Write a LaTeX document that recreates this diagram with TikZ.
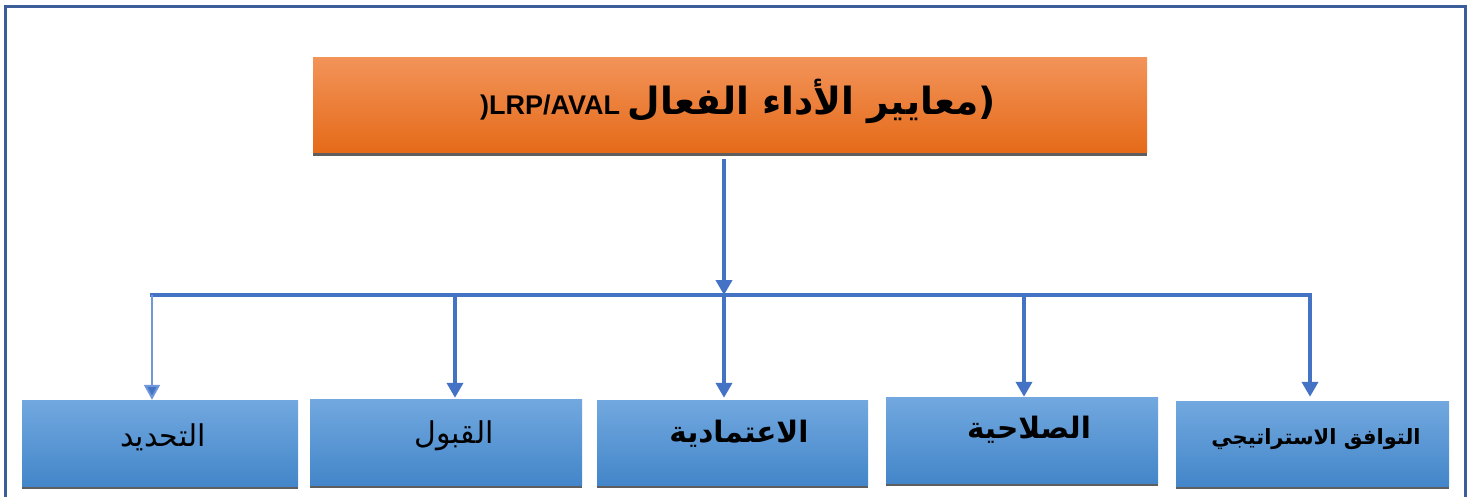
\documentclass[tikz,border=0pt]{standalone}
\usepackage{fontspec}
\setmainfont{Liberation Sans}
\newfontfamily\arabicfont[Script=Arabic]{DejaVu Sans}
\TeXXeTstate=1
\usetikzlibrary{arrows.meta,shadows}
\definecolor{framecol}{HTML}{3B5E9A}
\definecolor{linkcol}{HTML}{4472C4}
\definecolor{linklight}{HTML}{7097DA}
\definecolor{orangetop}{HTML}{F29359}
\definecolor{orangebot}{HTML}{E56A18}
\definecolor{bluetop}{HTML}{72A8DF}
\definecolor{bluebot}{HTML}{4386C9}
\definecolor{shadowcol}{HTML}{5E5E5E}
\tikzset{
  headbox/.style={rectangle, inner sep=0pt, top color=orangetop, bottom color=orangebot,
    drop shadow={shadow xshift=0pt, shadow yshift=-3pt, fill=shadowcol, opacity=1}},
  itembox/.style={rectangle, inner sep=0pt, top color=bluetop, bottom color=bluebot,
    drop shadow={shadow xshift=0pt, shadow yshift=-3pt, fill=shadowcol, opacity=1}},
  link/.style={draw=linkcol, line width=4pt},
  linkarrow/.style={link, -{Triangle[width=16pt,length=15pt]}},
  lbl/.style={font=\arabicfont\fontsize{30}{36}\selectfont},
  lblbold/.style={font=\arabicfont\bfseries\fontsize{29.5}{36}\selectfont},
}
\begin{document}
\begin{tikzpicture}[x=1pt,y=-1pt]
\useasboundingbox (0,0) rectangle (1472,497);
% outer frame
\draw[framecol, line width=3pt] (5,505) -- (5,7) -- (1465,7) -- (1465,505);

% heading box
\node[headbox, minimum width=834pt, minimum height=95pt] (head) at (730,105.5) {};
\node (headtext) at (738,101) {\fontsize{27}{32}\selectfont\bfseries )LRP/AVAL \arabicfont\fontsize{37.5}{44}\selectfont\beginR معايير الأداء الفعال\endR(};

% item boxes
\node[itembox, minimum width=276pt, minimum height=86pt] (b1) at (160,443) {};
\node[itembox, minimum width=272pt, minimum height=86pt] (b2) at (446,442) {};
\node[itembox, minimum width=271pt, minimum height=85pt] (b3) at (732.5,442.5) {};
\node[itembox, minimum width=272pt, minimum height=86pt] (b4) at (1022,440) {};
\node[itembox, minimum width=273pt, minimum height=85pt] (b5) at (1312.5,443.5) {};

\node[lbl] (t1) at (163,437) {\beginR التحديد\endR};
\node[lbl] (t2) at (454,436) {\beginR القبول\endR};
\node[lblbold] (t3) at (739,434) {\beginR الاعتمادية\endR};
\node[lblbold] (t4) at (1029,430) {\beginR الصلاحية\endR};
\node[lbl, font=\arabicfont\bfseries\fontsize{21}{26}\selectfont] (t5) at (1316,439) {\beginR التوافق الاستراتيجي\endR};

% junctions on the distribution bar
\coordinate (jm) at (724,295);
\coordinate (j1) at (152,295);
\coordinate (j2) at (455,295);
\coordinate (j3) at (724,295);
\coordinate (j4) at (1024,295);
\coordinate (j5) at (1310,295);

% connectors
\draw[linkarrow] (head.south -| jm) ++(0,6) coordinate (hs) -- (jm);
\draw[link, line cap=rect, line width=3.5pt] (j1) -- (j5);
\draw[draw=linklight, line width=2pt, -{Triangle[width=16pt,length=15pt,fill=linkcol]}] (j1) -- (j1 |- b1.north);
\draw[linkarrow, shorten >=1pt] (j2) -- (j2 |- b2.north);
\draw[linkarrow, shorten >=2pt] (j3) -- (j3 |- b3.north);
\draw[linkarrow] (j4) -- (j4 |- b4.north);
\draw[linkarrow, shorten >=4pt] (j5) -- (j5 |- b5.north);
\end{tikzpicture}
\end{document}
